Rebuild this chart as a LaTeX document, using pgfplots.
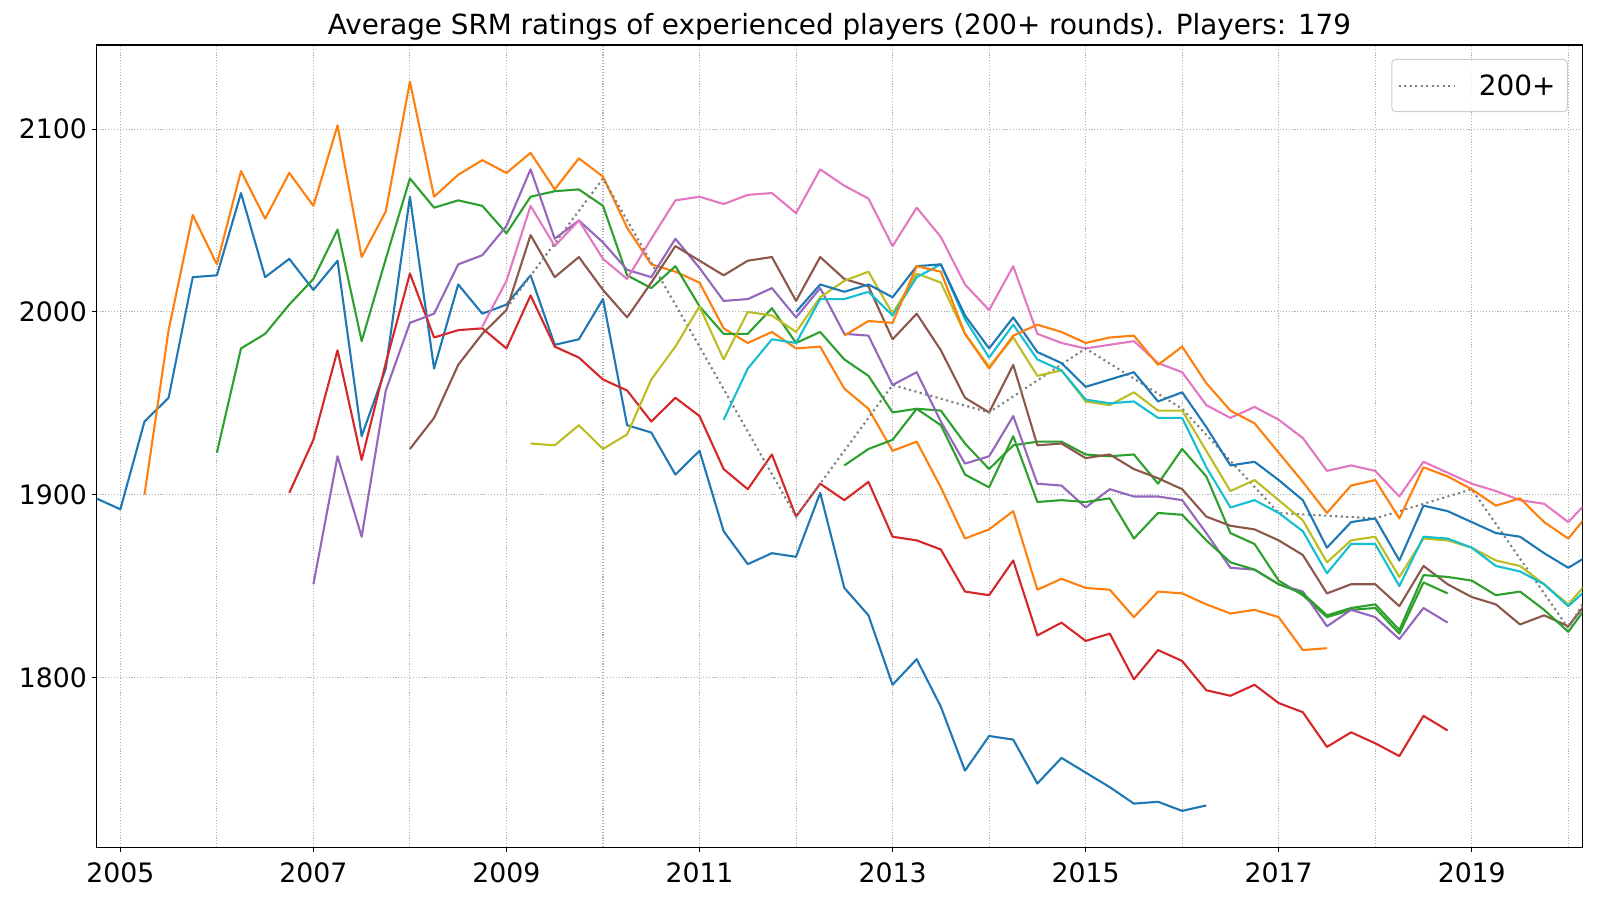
\documentclass[border=0pt]{standalone}
\usepackage{fontspec}
\setmainfont{DejaVu Sans}
\usepackage{pgfplots}
\pgfplotsset{compat=1.18}

\definecolor{tabblue}{HTML}{1F77B4}
\definecolor{taborange}{HTML}{FF7F0E}
\definecolor{tabgreen}{HTML}{2CA02C}
\definecolor{tabred}{HTML}{D62728}
\definecolor{tabpurple}{HTML}{9467BD}
\definecolor{tabbrown}{HTML}{8C564B}
\definecolor{tabpink}{HTML}{E377C2}
\definecolor{tabgray}{HTML}{7F7F7F}
\definecolor{tabolive}{HTML}{BCBD22}
\definecolor{tabcyan}{HTML}{17BECF}
\definecolor{gridgray}{HTML}{B0B0B0}

\begin{document}
\begin{tikzpicture}
\begin{axis}[
  scale only axis,
  width=1485.6bp, height=802.3bp,
  xmin=2004.755, xmax=2020.145,
  ymin=1707.1, ymax=2146,
  axis line style={black, line width=1.2bp},
  xtick={2005,2007,...,2019},
  xticklabels={2005,2007,2009,2011,2013,2015,2017,2019},
  minor xtick={2006,2008,...,2020},
  ytick={1800,1900,2000,2100},
  yticklabels={1800,1900,2000,2100},
  grid=both,
  major grid style={draw=gridgray, line width=1.1bp, dash pattern=on 1.1bp off 1.8bp},
  minor grid style={draw=gridgray, line width=1.1bp, dash pattern=on 1.1bp off 1.8bp},
  tick align=outside,
  major tick length=4.9bp,
  minor tick length=0pt,
  xtick pos=left, ytick pos=left,
  tick style={black, line width=1.1bp},
  tick label style={font=\fontsize{26.8}{30}\selectfont},
  x tick label style={anchor=north, inner sep=0pt, yshift=-10bp},
  y tick label style={anchor=east, inner sep=0pt, xshift=-4.8bp},
  title={Average SRM ratings of experienced players (200+ rounds). Players: 179},
  title style={font=\fontsize{27.9}{32}\selectfont, anchor=base, at={(0.5,1)}, yshift=5bp, inner sep=0pt},
  legend image code/.code={\draw[#1] (0bp,0bp) -- (56bp,0bp);},
  legend style={at={(1,1)}, anchor=north east, xshift=-14.3bp, yshift=-14bp,
    draw=black!20, line width=1bp, rounded corners=4bp, fill=white, fill opacity=0.8,
    text opacity=1, draw opacity=1, inner xsep=6bp, inner ysep=9bp,
    nodes={inner sep=6bp},
    font=\fontsize{28}{31}\selectfont,
    /tikz/every odd column/.append style={column sep=17bp}},
  every axis plot/.append style={line width=2.1bp, line join=round},
]

% cohort 1
\addplot[tabblue, forget plot] coordinates {
(2004.75,1898) (2005,1892) (2005.25,1940) (2005.5,1953) (2005.75,2019) (2006,2020)
(2006.25,2065) (2006.5,2019) (2006.75,2029) (2007,2012) (2007.25,2028) (2007.5,1932)
(2007.75,1969) (2008,2063) (2008.25,1969) (2008.5,2015) (2008.75,1999) (2009,2004)
(2009.25,2020) (2009.5,1982) (2009.75,1985) (2010,2007) (2010.25,1938) (2010.5,1934)
(2010.75,1911) (2011,1924) (2011.25,1880) (2011.5,1862) (2011.75,1868) (2012,1866)
(2012.25,1901) (2012.5,1849) (2012.75,1834) (2013,1796) (2013.25,1810) (2013.5,1784)
(2013.75,1749) (2014,1768) (2014.25,1766) (2014.5,1742) (2014.75,1756) (2015,1748)
(2015.25,1740) (2015.5,1731) (2015.75,1732) (2016,1727) (2016.25,1730)};

% cohort 2
\addplot[taborange, forget plot] coordinates {
(2005.25,1900) (2005.5,1990) (2005.75,2053) (2006,2026) (2006.25,2077) (2006.5,2051)
(2006.75,2076) (2007,2058) (2007.25,2102) (2007.5,2030) (2007.75,2055) (2008,2126)
(2008.25,2063) (2008.5,2075) (2008.75,2083) (2009,2076) (2009.25,2087) (2009.5,2067)
(2009.75,2084) (2010,2074) (2010.25,2046) (2010.5,2026) (2010.75,2022) (2011,2016)
(2011.25,1991) (2011.5,1983) (2011.75,1989) (2012,1980) (2012.25,1981) (2012.5,1958)
(2012.75,1947) (2013,1924) (2013.25,1929) (2013.5,1904) (2013.75,1876) (2014,1881)
(2014.25,1891) (2014.5,1848) (2014.75,1854) (2015,1849) (2015.25,1848) (2015.5,1833)
(2015.75,1847) (2016,1846) (2016.25,1840) (2016.5,1835) (2016.75,1837) (2017,1833)
(2017.25,1815) (2017.5,1816)};

% cohort 3
\addplot[tabgreen, forget plot] coordinates {
(2006,1923) (2006.25,1980) (2006.5,1988) (2006.75,2004) (2007,2018) (2007.25,2045)
(2007.5,1984) (2007.75,2029) (2008,2073) (2008.25,2057) (2008.5,2061) (2008.75,2058)
(2009,2043) (2009.25,2063) (2009.5,2066) (2009.75,2067) (2010,2058) (2010.25,2020)
(2010.5,2013) (2010.75,2025) (2011,2003) (2011.25,1988) (2011.5,1988) (2011.75,2002)
(2012,1983) (2012.25,1989) (2012.5,1974) (2012.75,1965) (2013,1945) (2013.25,1947)
(2013.5,1946) (2013.75,1928) (2014,1914) (2014.25,1927) (2014.5,1929) (2014.75,1929)
(2015,1922) (2015.25,1921) (2015.5,1922) (2015.75,1906) (2016,1925) (2016.25,1910)
(2016.5,1879) (2016.75,1873) (2017,1853) (2017.25,1845) (2017.5,1833) (2017.75,1837)
(2018,1838) (2018.25,1824) (2018.5,1852) (2018.75,1846)};

% cohort 4
\addplot[tabred, forget plot] coordinates {
(2006.75,1901) (2007,1930) (2007.25,1979) (2007.5,1919) (2007.75,1972) (2008,2021)
(2008.25,1986) (2008.5,1990) (2008.75,1991) (2009,1980) (2009.25,2009) (2009.5,1981)
(2009.75,1975) (2010,1963) (2010.25,1957) (2010.5,1940) (2010.75,1953) (2011,1943)
(2011.25,1914) (2011.5,1903) (2011.75,1922) (2012,1888) (2012.25,1906) (2012.5,1897)
(2012.75,1907) (2013,1877) (2013.25,1875) (2013.5,1870) (2013.75,1847) (2014,1845)
(2014.25,1864) (2014.5,1823) (2014.75,1830) (2015,1820) (2015.25,1824) (2015.5,1799)
(2015.75,1815) (2016,1809) (2016.25,1793) (2016.5,1790) (2016.75,1796) (2017,1786)
(2017.25,1781) (2017.5,1762) (2017.75,1770) (2018,1764) (2018.25,1757) (2018.5,1779)
(2018.75,1771)};

% cohort 5
\addplot[tabpurple, forget plot] coordinates {
(2007,1851) (2007.25,1921) (2007.5,1877) (2007.75,1957) (2008,1994) (2008.25,1999)
(2008.5,2026) (2008.75,2031) (2009,2047) (2009.25,2078) (2009.5,2040) (2009.75,2050)
(2010,2038) (2010.25,2023) (2010.5,2019) (2010.75,2040) (2011,2024) (2011.25,2006)
(2011.5,2007) (2011.75,2013) (2012,1997) (2012.25,2013) (2012.5,1988) (2012.75,1987)
(2013,1960) (2013.25,1967) (2013.5,1940) (2013.75,1917) (2014,1921) (2014.25,1943)
(2014.5,1906) (2014.75,1905) (2015,1893) (2015.25,1903) (2015.5,1899) (2015.75,1899)
(2016,1897) (2016.25,1879) (2016.5,1860) (2016.75,1859) (2017,1851) (2017.25,1847)
(2017.5,1828) (2017.75,1837) (2018,1833) (2018.25,1821) (2018.5,1838) (2018.75,1830)};

% cohort 6
\addplot[tabbrown, forget plot] coordinates {
(2008,1925) (2008.25,1942) (2008.5,1971) (2008.75,1988) (2009,2001) (2009.25,2042)
(2009.5,2019) (2009.75,2030) (2010,2012) (2010.25,1997) (2010.5,2016) (2010.75,2036)
(2011,2028) (2011.25,2020) (2011.5,2028) (2011.75,2030) (2012,2006) (2012.25,2030)
(2012.5,2018) (2012.75,2014) (2013,1985) (2013.25,1999) (2013.5,1979) (2013.75,1953)
(2014,1945) (2014.25,1971) (2014.5,1927) (2014.75,1928) (2015,1920) (2015.25,1922)
(2015.5,1914) (2015.75,1909) (2016,1903) (2016.25,1888) (2016.5,1883) (2016.75,1881)
(2017,1875) (2017.25,1867) (2017.5,1846) (2017.75,1851) (2018,1851) (2018.25,1839)
(2018.5,1861) (2018.75,1851) (2019,1844) (2019.25,1840) (2019.5,1829) (2019.75,1834)
(2020,1828) (2020.25,1845)};

% cohort 7
\addplot[tabpink, forget plot] coordinates {
(2008.75,1992) (2009,2017) (2009.25,2058) (2009.5,2036) (2009.75,2050) (2010,2029)
(2010.25,2018) (2010.5,2040) (2010.75,2061) (2011,2063) (2011.25,2059) (2011.5,2064)
(2011.75,2065) (2012,2054) (2012.25,2078) (2012.5,2069) (2012.75,2062) (2013,2036)
(2013.25,2057) (2013.5,2041) (2013.75,2015) (2014,2001) (2014.25,2025) (2014.5,1988)
(2014.75,1983) (2015,1980) (2015.25,1982) (2015.5,1984) (2015.75,1972) (2016,1967)
(2016.25,1949) (2016.5,1942) (2016.75,1948) (2017,1941) (2017.25,1931) (2017.5,1913)
(2017.75,1916) (2018,1913) (2018.25,1899) (2018.5,1918) (2018.75,1912) (2019,1906)
(2019.25,1902) (2019.5,1897) (2019.75,1895) (2020,1885) (2020.25,1899)};

% all players with 200+ rounds
\addplot[tabgray, dash pattern=on 2.1bp off 3.4bp] coordinates {
(2009,2002) (2010,2073) (2011,1981) (2012,1888) (2013,1960) (2014,1945)
(2015,1980) (2016,1947) (2017,1890) (2018,1887) (2019,1903) (2020,1827) (2020.25,1849)};
\addlegendentry{200+}

% cohort 8
\addplot[tabolive, forget plot] coordinates {
(2009.25,1928) (2009.5,1927) (2009.75,1938) (2010,1925) (2010.25,1933) (2010.5,1963)
(2010.75,1981) (2011,2003) (2011.25,1974) (2011.5,2000) (2011.75,1998) (2012,1989)
(2012.25,2008) (2012.5,2017) (2012.75,2022) (2013,1999) (2013.25,2021) (2013.5,2016)
(2013.75,1988) (2014,1970) (2014.25,1986) (2014.5,1965) (2014.75,1968) (2015,1951)
(2015.25,1949) (2015.5,1956) (2015.75,1946) (2016,1946) (2016.25,1924) (2016.5,1902)
(2016.75,1908) (2017,1897) (2017.25,1886) (2017.5,1863) (2017.75,1875) (2018,1877)
(2018.25,1855) (2018.5,1876) (2018.75,1875) (2019,1871) (2019.25,1864) (2019.5,1861)
(2019.75,1851) (2020,1840) (2020.25,1855)};

% cohort 9
\addplot[tabcyan, forget plot] coordinates {
(2011.25,1941) (2011.5,1969) (2011.75,1985) (2012,1983) (2012.25,2007) (2012.5,2007)
(2012.75,2011) (2013,1998) (2013.25,2019) (2013.5,2026) (2013.75,1996) (2014,1975)
(2014.25,1993) (2014.5,1974) (2014.75,1968) (2015,1952) (2015.25,1950) (2015.5,1951)
(2015.75,1942) (2016,1942) (2016.25,1915) (2016.5,1893) (2016.75,1897) (2017,1890)
(2017.25,1880) (2017.5,1857) (2017.75,1873) (2018,1873) (2018.25,1850) (2018.5,1877)
(2018.75,1876) (2019,1871) (2019.25,1861) (2019.5,1858) (2019.75,1851) (2020,1839)
(2020.25,1851)};

% cohort 10
\addplot[tabblue, forget plot] coordinates {
(2012,2000) (2012.25,2015) (2012.5,2011) (2012.75,2015) (2013,2008) (2013.25,2025)
(2013.5,2026) (2013.75,1998) (2014,1980) (2014.25,1997) (2014.5,1978) (2014.75,1972)
(2015,1959) (2015.25,1963) (2015.5,1967) (2015.75,1951) (2016,1956) (2016.25,1937)
(2016.5,1916) (2016.75,1918) (2017,1908) (2017.25,1897) (2017.5,1871) (2017.75,1885)
(2018,1887) (2018.25,1864) (2018.5,1894) (2018.75,1891) (2019,1885) (2019.25,1879)
(2019.5,1877) (2019.75,1868) (2020,1860) (2020.25,1868)};

% cohort 11
\addplot[taborange, forget plot] coordinates {
(2012.5,1987) (2012.75,1995) (2013,1994) (2013.25,2025) (2013.5,2022) (2013.75,1988)
(2014,1969) (2014.25,1987) (2014.5,1993) (2014.75,1989) (2015,1983) (2015.25,1986)
(2015.5,1987) (2015.75,1971) (2016,1981) (2016.25,1961) (2016.5,1946) (2016.75,1939)
(2017,1923) (2017.25,1907) (2017.5,1890) (2017.75,1905) (2018,1908) (2018.25,1887)
(2018.5,1915) (2018.75,1910) (2019,1903) (2019.25,1894) (2019.5,1898) (2019.75,1885)
(2020,1876) (2020.25,1892)};

% cohort 12
\addplot[tabgreen, forget plot] coordinates {
(2012.5,1916) (2012.75,1925) (2013,1930) (2013.25,1947) (2013.5,1938) (2013.75,1911)
(2014,1904) (2014.25,1932) (2014.5,1896) (2014.75,1897) (2015,1896) (2015.25,1898)
(2015.5,1876) (2015.75,1890) (2016,1889) (2016.25,1875) (2016.5,1863) (2016.75,1859)
(2017,1851) (2017.25,1846) (2017.5,1834) (2017.75,1838) (2018,1840) (2018.25,1826)
(2018.5,1856) (2018.75,1855) (2019,1853) (2019.25,1845) (2019.5,1847) (2019.75,1837)
(2020,1825) (2020.25,1843)};

\end{axis}
\pgfresetboundingbox
\path (-96.7bp,-52.7bp) rectangle (1503.3bp,847.3bp);
\end{tikzpicture}
\end{document}
